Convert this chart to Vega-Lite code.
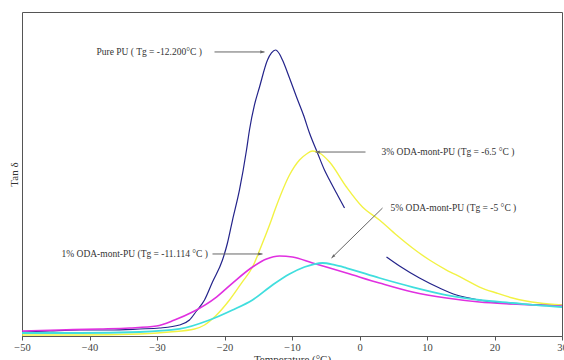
{
  "$schema": "https://vega.github.io/schema/vega-lite/v6.json",
  "width": 540,
  "height": 324,
  "autosize": {"type": "none"},
  "padding": {"left": 22, "top": 12, "right": 2, "bottom": 24},
  "background": "white",
  "config": {"view": {"stroke": "#555", "strokeWidth": 1}, "font": "Liberation Serif"},
  "layer": [
    {
      "data": {"values": [
        {"s":"Pure PU","seg":"a","t":-50,"v":0.0074},{"s":"Pure PU","seg":"a","t":-45.93,"v":0.0093},{"s":"Pure PU","seg":"a","t":-41.48,"v":0.0111},{"s":"Pure PU","seg":"a","t":-37.04,"v":0.0111},{"s":"Pure PU","seg":"a","t":-32.59,"v":0.013},{"s":"Pure PU","seg":"a","t":-29.63,"v":0.0148},{"s":"Pure PU","seg":"a","t":-26.67,"v":0.0204},{"s":"Pure PU","seg":"a","t":-25.19,"v":0.0296},{"s":"Pure PU","seg":"a","t":-24.15,"v":0.0463},{"s":"Pure PU","seg":"a","t":-22.96,"v":0.0667},{"s":"Pure PU","seg":"a","t":-21.78,"v":0.1},{"s":"Pure PU","seg":"a","t":-20.3,"v":0.1407},{"s":"Pure PU","seg":"a","t":-19.56,"v":0.1722},{"s":"Pure PU","seg":"a","t":-18.81,"v":0.2148},{"s":"Pure PU","seg":"a","t":-17.78,"v":0.2704},{"s":"Pure PU","seg":"a","t":-16.74,"v":0.3444},{"s":"Pure PU","seg":"a","t":-16.3,"v":0.3815},{"s":"Pure PU","seg":"a","t":-15.56,"v":0.4278},{"s":"Pure PU","seg":"a","t":-14.81,"v":0.4611},{"s":"Pure PU","seg":"a","t":-13.63,"v":0.5111},{"s":"Pure PU","seg":"a","t":-13.04,"v":0.5241},{"s":"Pure PU","seg":"a","t":-12.44,"v":0.5296},{"s":"Pure PU","seg":"a","t":-11.85,"v":0.5222},{"s":"Pure PU","seg":"a","t":-11.41,"v":0.5111},{"s":"Pure PU","seg":"a","t":-10.37,"v":0.4778},{"s":"Pure PU","seg":"a","t":-9.33,"v":0.4426},{"s":"Pure PU","seg":"a","t":-8.3,"v":0.4093},{"s":"Pure PU","seg":"a","t":-7.41,"v":0.3759},{"s":"Pure PU","seg":"a","t":-6.22,"v":0.3389},{"s":"Pure PU","seg":"a","t":-5.19,"v":0.3074},{"s":"Pure PU","seg":"a","t":-4.44,"v":0.2889},{"s":"Pure PU","seg":"a","t":-3.26,"v":0.2611},{"s":"Pure PU","seg":"a","t":-2.22,"v":0.237},
        {"s":"Pure PU","seg":"b","t":4.0,"v":0.1463},{"s":"Pure PU","seg":"b","t":5.93,"v":0.1296},{"s":"Pure PU","seg":"b","t":8.89,"v":0.1074},{"s":"Pure PU","seg":"b","t":11.85,"v":0.0889},{"s":"Pure PU","seg":"b","t":14.37,"v":0.0759},{"s":"Pure PU","seg":"b","t":17.78,"v":0.0667},{"s":"Pure PU","seg":"b","t":20.74,"v":0.0611},{"s":"Pure PU","seg":"b","t":23.7,"v":0.0593},{"s":"Pure PU","seg":"b","t":27.7,"v":0.0574},{"s":"Pure PU","seg":"b","t":30,"v":0.0574},
        {"s":"3%","seg":"a","t":-50,"v":0.0019},{"s":"3%","seg":"a","t":-41.48,"v":0.0019},{"s":"3%","seg":"a","t":-32.59,"v":0.0037},{"s":"3%","seg":"a","t":-28.15,"v":0.0074},{"s":"3%","seg":"a","t":-24.44,"v":0.013},{"s":"3%","seg":"a","t":-22.96,"v":0.0204},{"s":"3%","seg":"a","t":-21.33,"v":0.037},{"s":"3%","seg":"a","t":-19.26,"v":0.0667},{"s":"3%","seg":"a","t":-17.48,"v":0.0981},{"s":"3%","seg":"a","t":-15.85,"v":0.1278},{"s":"3%","seg":"a","t":-14.37,"v":0.1722},{"s":"3%","seg":"a","t":-13.33,"v":0.2056},{"s":"3%","seg":"a","t":-12.37,"v":0.2389},{"s":"3%","seg":"a","t":-10.37,"v":0.2981},{"s":"3%","seg":"a","t":-8.89,"v":0.3259},{"s":"3%","seg":"a","t":-7.85,"v":0.337},{"s":"3%","seg":"a","t":-6.96,"v":0.3426},{"s":"3%","seg":"a","t":-5.93,"v":0.3389},{"s":"3%","seg":"a","t":-4.44,"v":0.3222},{"s":"3%","seg":"a","t":-1.93,"v":0.2759},{"s":"3%","seg":"a","t":0.44,"v":0.2389},{"s":"3%","seg":"a","t":2.96,"v":0.2148},{"s":"3%","seg":"a","t":5.48,"v":0.187},{"s":"3%","seg":"a","t":7.85,"v":0.163},{"s":"3%","seg":"a","t":10.37,"v":0.1407},{"s":"3%","seg":"a","t":12.89,"v":0.1222},{"s":"3%","seg":"a","t":15.26,"v":0.1074},{"s":"3%","seg":"a","t":17.78,"v":0.0907},{"s":"3%","seg":"a","t":20.3,"v":0.0796},{"s":"3%","seg":"a","t":22.67,"v":0.0704},{"s":"3%","seg":"a","t":26.67,"v":0.0611},{"s":"3%","seg":"a","t":30,"v":0.0574},
        {"s":"1%","seg":"a","t":-50,"v":0.0093},{"s":"1%","seg":"a","t":-44.44,"v":0.0111},{"s":"1%","seg":"a","t":-38.52,"v":0.013},{"s":"1%","seg":"a","t":-34.07,"v":0.0148},{"s":"1%","seg":"a","t":-30.07,"v":0.0185},{"s":"1%","seg":"a","t":-27.41,"v":0.0296},{"s":"1%","seg":"a","t":-24.74,"v":0.0444},{"s":"1%","seg":"a","t":-21.19,"v":0.0722},{"s":"1%","seg":"a","t":-18.81,"v":0.0981},{"s":"1%","seg":"a","t":-15.85,"v":0.1278},{"s":"1%","seg":"a","t":-13.78,"v":0.1426},{"s":"1%","seg":"a","t":-11.85,"v":0.1481},{"s":"1%","seg":"a","t":-9.93,"v":0.1463},{"s":"1%","seg":"a","t":-6.96,"v":0.1352},{"s":"1%","seg":"a","t":-1.93,"v":0.1167},{"s":"1%","seg":"a","t":2.96,"v":0.0981},{"s":"1%","seg":"a","t":7.85,"v":0.0815},{"s":"1%","seg":"a","t":12.89,"v":0.0704},{"s":"1%","seg":"a","t":17.78,"v":0.063},{"s":"1%","seg":"a","t":22.67,"v":0.0593},{"s":"1%","seg":"a","t":30,"v":0.0556},
        {"s":"5%","seg":"a","t":-50,"v":0.0056},{"s":"5%","seg":"a","t":-41.48,"v":0.0056},{"s":"5%","seg":"a","t":-32.59,"v":0.0074},{"s":"5%","seg":"a","t":-26.67,"v":0.013},{"s":"5%","seg":"a","t":-22.22,"v":0.0296},{"s":"5%","seg":"a","t":-18.81,"v":0.0481},{"s":"5%","seg":"a","t":-15.85,"v":0.0667},{"s":"5%","seg":"a","t":-12.89,"v":0.0944},{"s":"5%","seg":"a","t":-10.37,"v":0.1148},{"s":"5%","seg":"a","t":-8.15,"v":0.1278},{"s":"5%","seg":"a","t":-6.67,"v":0.1333},{"s":"5%","seg":"a","t":-5.48,"v":0.1352},{"s":"5%","seg":"a","t":-3.7,"v":0.1315},{"s":"5%","seg":"a","t":-1.93,"v":0.1259},{"s":"5%","seg":"a","t":2.96,"v":0.1074},{"s":"5%","seg":"a","t":7.85,"v":0.0907},{"s":"5%","seg":"a","t":12.89,"v":0.0759},{"s":"5%","seg":"a","t":17.78,"v":0.0667},{"s":"5%","seg":"a","t":22.67,"v":0.0611},{"s":"5%","seg":"a","t":27.7,"v":0.0556},{"s":"5%","seg":"a","t":30,"v":0.0537}
      ]},
      "mark": {"type": "line", "interpolate": "monotone"},
      "encoding": {
        "x": {"field": "t", "type": "quantitative", "scale": {"domain": [-50, 30], "nice": false},
          "axis": {"values": [-50,-40,-30,-20,-10,0,10,20,30], "title": "Temperature (°C)", "grid": false, "tickSize": 4, "tickColor": "#555", "domainColor": "#555", "labelFont": "Liberation Serif", "labelFontSize": 10.5, "labelColor": "#444", "labelPadding": 2, "labelFlush": false, "titleFont": "Liberation Serif", "titleFontSize": 11, "titleFontWeight": "normal", "titleColor": "#333", "titlePadding": 1}},
        "y": {"field": "v", "type": "quantitative", "scale": {"domain": [0, 0.6], "nice": false},
          "axis": {"title": "Tan δ", "ticks": false, "labels": false, "grid": false, "domain": false, "titleFont": "Liberation Serif", "titleFontSize": 11, "titleFontWeight": "normal", "titleColor": "#333", "titlePadding": 3}},
        "color": {"field": "s", "type": "nominal", "scale": {"domain": ["Pure PU", "3%", "1%", "5%"], "range": ["#23238a", "#f2f244", "#e030e0", "#40dede"]}, "legend": null},
        "strokeWidth": {"field": "s", "type": "nominal", "scale": {"domain": ["Pure PU", "3%", "1%", "5%"], "range": [1.2, 1.8, 1.4, 1.4]}, "legend": null},
        "detail": {"field": "seg"}
      }
    },
    {
      "data": {"values": [
        {"a": "Pure PU", "t": -21.48, "v": 0.526, "t2": -14.07, "v2": 0.526},
        {"a": "3%", "t": 0.89, "v": 0.3407, "t2": -6.52, "v2": 0.3407},
        {"a": "5%", "t": 3.41, "v": 0.237, "t2": -4.15, "v2": 0.1444},
        {"a": "1%", "t": -21.78, "v": 0.1519, "t2": -14.37, "v2": 0.1519}
      ]},
      "layer": [
        {
          "mark": {"type": "rule", "color": "#666", "strokeWidth": 1},
          "encoding": {
            "x": {"field": "t", "type": "quantitative"},
            "y": {"field": "v", "type": "quantitative"},
            "x2": {"field": "t2"},
            "y2": {"field": "v2"}
          }
        },
        {
          "mark": {"type": "point", "filled": true, "color": "#666", "opacity": 1, "size": 50},
          "encoding": {
            "x": {"field": "t2", "type": "quantitative"},
            "y": {"field": "v2", "type": "quantitative"},
            "shape": {"field": "a", "type": "nominal", "scale": {"domain": ["Pure PU", "3%", "5%", "1%"], "range": ["M0,0L-1.2,-0.45L-1.2,0.45Z", "M0,0L1.2,-0.45L1.2,0.45Z", "M0,0L0.53,-1.1L1.1,-0.53Z", "M0,0L-1.2,-0.45L-1.2,0.45Z"]}, "legend": null}
          }
        }
      ]
    },
    {
      "data": {"values": [
        {"label": "Pure PU ( Tg = -12.200°C )", "t": -38.96, "v": 0.526},
        {"label": "3% ODA-mont-PU (Tg = -6.5 °C )", "t": 3.26, "v": 0.3407},
        {"label": "5% ODA-mont-PU (Tg = -5 °C )", "t": 4.59, "v": 0.237},
        {"label": "1% ODA-mont-PU (Tg = -11.114 °C )", "t": -44.15, "v": 0.1519}
      ]},
      "mark": {"type": "text", "align": "left", "baseline": "middle", "font": "Liberation Serif", "fontSize": 9.5, "color": "#333"},
      "encoding": {
        "x": {"field": "t", "type": "quantitative"},
        "y": {"field": "v", "type": "quantitative"},
        "text": {"field": "label"}
      }
    }
  ]
}
